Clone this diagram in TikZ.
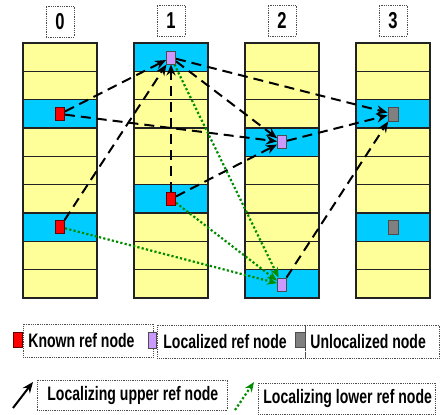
\documentclass[tikz,border=0pt]{standalone}
\usepackage{fontspec}
\usepackage{graphicx}
\setmainfont{Liberation Sans}
\usetikzlibrary{arrows.meta}
\definecolor{ycol}{HTML}{FFFF99}
\definecolor{bcol}{HTML}{00CCFF}
\definecolor{rcol}{HTML}{FF0000}
\definecolor{pcol}{HTML}{CC99FF}
\definecolor{gcol}{HTML}{808080}
\definecolor{grn}{HTML}{008C00}
\definecolor{bord}{HTML}{222222}
\newcommand{\legtext}[2]{\makebox[#1][l]{\scalebox{0.72}[1]{#2}}}
\newcommand{\hdrtext}[1]{\scalebox{0.72}[1]{#1}}
\tikzset{
  sep/.style={draw=bord,line width=1.5pt},
  colborder/.style={draw=bord,line width=1.7pt},
  hdr/.style={draw=black!70,densely dotted,line width=0.8pt,minimum width=28pt,minimum height=31pt,inner sep=0pt,font=\fontsize{23}{24}\selectfont\bfseries},
  mark0/.style={line width=0.9pt,inner sep=0pt,minimum width=9pt,minimum height=13pt},
  known/.style={mark0,fill=rcol,draw=red!40!black},
  local/.style={mark0,fill=pcol,draw=black!70},
  unloc/.style={mark0,fill=gcol,draw=black!70,minimum width=10pt,minimum height=14pt},
  upper/.style={draw=black,line width=2pt,dash pattern=on 10pt off 6pt,-{Stealth[length=11pt,width=9pt]}},
  lower/.style={draw=grn,line width=2.2pt,dash pattern=on 2.2pt off 2.2pt,-{Stealth[length=10pt,width=8pt]}},
  legbox/.style={draw=black!70,densely dotted,line width=0.8pt,inner ysep=0pt,font=\fontsize{19.5}{22}\selectfont\bfseries},
}
\begin{document}
\begin{tikzpicture}[x=1pt,y=-1pt]
\useasboundingbox (0,0) rectangle (440,415);
% columns
\foreach \c/\ba/\bb in {0/2/6,1/0/5,2/3/8,3/2/6}{
  \pgfmathsetmacro\xl{23+111*\c}
  \fill[ycol] (\xl,43) rectangle ++(74,255);
  \fill[bcol] (\xl,{43+28.333*\ba}) rectangle ++(74,28.333);
  \fill[bcol] (\xl,{43+28.333*\bb}) rectangle ++(74,28.333);
  \foreach \j in {1,...,8} \draw[sep] (\xl,{43+28.333*\j}) -- ++(74,0);
  \draw[colborder] (\xl,43) rectangle ++(74,255);
}
% headers
\node[hdr] (h0) at (60,21.5) {\hdrtext{0}};
\node[hdr] (h1) at (171,20.5) {\hdrtext{1}};
\node[hdr] (h2) at (282,20.5) {\hdrtext{2}};
\node[hdr] (h3) at (393,20.5) {\hdrtext{3}};
% markers
\node[known] (k02) at (60,114) {};
\node[known] (k06) at (60,227) {};
\node[local] (p10) at (171,57.5) {};
\node[known] (k15) at (171,199) {};
\node[local] (p23) at (282,142) {};
\node[local] (p28) at (282,284.5) {};
\node[unloc] (u32) at (393,114) {};
\node[unloc] (u36) at (393,227) {};
% upper arrows
\draw[upper] (k02) -- (p10);
\draw[upper] (k06) -- (p10);
\draw[upper] (k15) -- (p10);
\draw[upper] (k02) -- (p23);
\draw[upper] (p10) -- (p23);
\draw[upper] (k15) -- (p23);
\draw[upper] (p10) -- (u32);
\draw[upper] (p23) -- (u32);
\draw[upper] (p28) -- (u32);
% lower arrows
\draw[lower] (p10) -- (p28);
\draw[lower] (k15) -- (p28);
\draw[lower] (k06) -- (p28);
% redraw markers on top
\node[known] at (k02) {};
\node[known] at (k06) {};
\node[local] at (p10) {};
\node[known] at (k15) {};
\node[local] at (p23) {};
\node[local] at (p28) {};
\node[unloc] at (u32) {};
\node[unloc] at (u36) {};
% legend row 1
\node[legbox,anchor=west,inner xsep=5pt,minimum height=33pt] (l1) at (23,340.5) {\legtext{120pt}{Known ref node}};
\node[legbox,anchor=west,inner xsep=6pt,minimum height=33pt] (l2) at (157,341.5) {\legtext{136pt}{Localized ref node}};
\node[legbox,anchor=west,inner xsep=5pt,minimum height=33pt] (l3) at (305,341.5) {\legtext{124pt}{Unlocalized node}};
\node[known,minimum width=9pt,minimum height=15pt] (lk) at (17.5,339.5) {};
\node[local,minimum width=8pt,minimum height=16pt] (lp) at (152,340) {};
\node[unloc,minimum width=10pt,minimum height=15pt] (lu) at (300,339.5) {};
% legend row 2
\coordinate (ua1) at (13,408);
\coordinate (ua2) at (33,382);
\draw[upper,solid] (ua1) -- (ua2);
\node[legbox,anchor=west,inner xsep=10pt,minimum height=30pt] (l4) at (37,395) {\legtext{170pt}{Localizing upper ref node}};
\coordinate (la1) at (235,410);
\coordinate (la2) at (254,382);
\draw[lower] (la1) -- (la2);
\node[legbox,anchor=west,inner xsep=5pt,minimum height=31pt] (l5) at (258,398.5) {\legtext{167pt}{Localizing lower ref node}};
\end{tikzpicture}
\end{document}
